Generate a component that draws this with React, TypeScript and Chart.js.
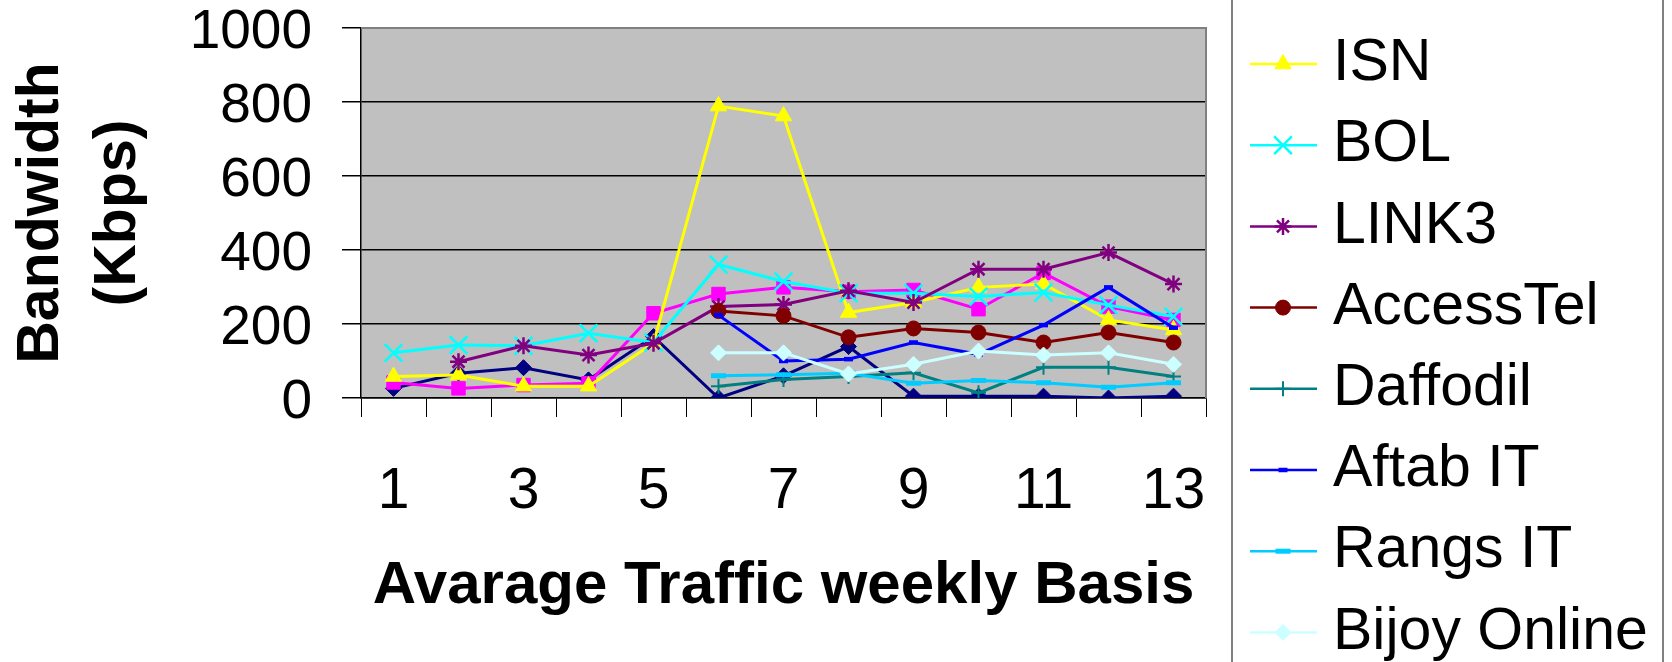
import React, { useEffect, useRef } from 'react';
import { Chart, registerables } from 'chart.js';
import { drawPoint } from 'chart.js/helpers';

Chart.register(...registerables);

const weeks = ['1', '2', '3', '4', '5', '6', '7', '8', '9', '10', '11', '12', '13'];
const seriesNames = ['Series1', 'BDCOM', 'ISN', 'BOL', 'LINK3', 'AccessTel', 'Daffodil', 'Aftab IT', 'Rangs IT', 'Bijoy Online'];
const series1 = [26, 67, 82, 49, 166, 0, 60, 139, 5, 5, 5, 0, 5];
const bdcom = [42, 26, 35, 40, 229, 281, 299, 287, 292, 240, 338, 247, 211];
const isn = [58, 62, 32, 32, 148, 789, 762, 231, 258, 299, 308, 211, 184];
const bol = [122, 143, 141, 175, 150, 361, 315, 283, 283, 274, 285, 251, 220];
const link3 = [null, 98, 141, 116, 148, 247, 253, 290, 258, 348, 348, 393, 308];
const accessTel = [null, null, null, null, null, 235, 222, 164, 188, 177, 150, 177, 150];
const daffodil = [null, null, null, null, null, 32, 50, 58, 68, 14, 83, 83, 58];
const aftabIT = [null, null, null, null, null, 224, 100, 105, 150, 118, 197, 299, 190];
const rangsIT = [null, null, null, null, null, 60, 63, 67, 40, 47, 41, 29, 41];
const bijoyOnline = [null, null, null, null, null, 122, 122, 65, 91, 127, 116, 122, 91];

const yTitle = ['Bandwidth', '(Kbps)'];
const xTitle = 'Avarage Traffic weekly Basis';

const seriesData = [series1, bdcom, isn, bol, link3, accessTel, daffodil, aftabIT, rangsIT, bijoyOnline];
const colors = ['#000080', '#FF00FF', '#FFFF00', '#00FFFF', '#800080', '#800000', '#008080', '#0000FF', '#00CCFF', '#CCFFFF'];
const pointStyles = ['rectRot', 'rect', 'triangle', 'crossRot', 'star', 'circle', 'cross', 'line', 'line', 'rectRot'];
const pointRadii = [8, 9.5, 9.5, 12.5, 8.5, 7.5, 7.5, 4.5, 7.5, 8];
const pointBorders = [1, 1, 1, 2.5, 2.5, 1, 2, 4.5, 5, 1];

const FONT = '"Liberation Sans", Arial, sans-serif';

const plotBg = {
  id: 'plotBg',
  beforeDraw(chart: any) {
    const { ctx, chartArea: a } = chart;
    ctx.save();
    ctx.fillStyle = '#C0C0C0';
    ctx.fillRect(a.left, a.top, a.right - a.left, a.bottom - a.top);
    ctx.restore();
  },
  beforeDatasetsDraw(chart: any) {
    const { ctx, chartArea: a } = chart;
    ctx.save();
    ctx.strokeStyle = '#808080';
    ctx.lineWidth = 2;
    ctx.beginPath();
    ctx.moveTo(a.left, a.top);
    ctx.lineTo(a.right, a.top);
    ctx.lineTo(a.right, a.bottom);
    ctx.stroke();
    ctx.restore();
  },
};

const customLegend = {
  id: 'customLegend',
  afterDraw(chart: any) {
    const { ctx } = chart;
    ctx.save();
    ctx.strokeStyle = '#808080';
    ctx.lineWidth = 2;
    ctx.beginPath();
    ctx.moveTo(1232, -10);
    ctx.lineTo(1232, 680);
    ctx.moveTo(1663, -10);
    ctx.lineTo(1663, 680);
    ctx.stroke();
    const step = 81.2;
    seriesNames.forEach((name, i) => {
      const y = 64 + (i - 2) * step;
      ctx.strokeStyle = colors[i];
      ctx.lineWidth = 2.5;
      ctx.beginPath();
      ctx.moveTo(1250, y);
      ctx.lineTo(1317, y);
      ctx.stroke();
      ctx.fillStyle = colors[i];
      ctx.strokeStyle = colors[i];
      ctx.lineWidth = pointBorders[i];
      drawPoint(ctx, { pointStyle: pointStyles[i], radius: pointRadii[i], borderWidth: pointBorders[i], rotation: 0 } as any, 1283, y);
      ctx.fillStyle = '#000';
      ctx.font = `59px ${FONT}`;
      ctx.textBaseline = 'middle';
      ctx.textAlign = 'left';
      ctx.fillText(name, 1333, y);
    });
    ctx.restore();
  },
};

export default function App() {
  const ref = useRef<HTMLCanvasElement>(null);
  useEffect(() => {
    if (!ref.current) return;
    const chart = new Chart(ref.current, {
      type: 'line',
      data: {
        labels: weeks,
        datasets: seriesData.map((d, i) => ({
          label: seriesNames[i],
          data: d,
          borderColor: colors[i],
          backgroundColor: colors[i],
          borderWidth: 3,
          pointStyle: pointStyles[i] as any,
          pointRadius: pointRadii[i],
          pointBorderWidth: pointBorders[i],
          pointBorderColor: colors[i],
          pointBackgroundColor: colors[i],
          fill: false,
          tension: 0,
          spanGaps: false,
          order: seriesData.length - i,
        })),
      },
      options: {
        responsive: false,
        animation: false,
        devicePixelRatio: 1,
        layout: { padding: { left: 0, top: 28, right: 466, bottom: 0 } },
        plugins: { legend: { display: false }, tooltip: { enabled: false } },
        scales: {
          x: {
            type: 'category',
            offset: true,
            afterFit(scale: any) {
              scale.height = 264;
              scale.paddingLeft = 0;
              scale.paddingRight = 0;
            },
            grid: { offset: true, drawOnChartArea: false, drawTicks: true, tickLength: 19, color: '#000', tickColor: '#000', lineWidth: 1 },
            border: { color: '#000', width: 1.5 },
            ticks: {
              autoSkip: false,
              maxRotation: 0,
              minRotation: 0,
              padding: 41,
              color: '#000',
              font: { family: FONT, size: 57 },
              callback: (_v: any, idx: number) => (idx % 2 === 0 ? weeks[idx] : ''),
            },
            title: { display: true, text: xTitle, color: '#000', font: { family: FONT, size: 60, weight: 'bold' }, padding: { top: 0, bottom: 40 } },
          },
          y: {
            min: 0,
            max: 1000,
            afterFit(scale: any) {
              scale.width = 361;
              scale.paddingTop = 0;
              scale.paddingBottom = 0;
            },
            grid: {
              drawTicks: true,
              tickLength: 19,
              color: (c: any) => (c.tick && c.tick.value === 1000 ? 'rgba(0,0,0,0)' : '#000'),
              tickColor: '#000',
              lineWidth: 1.5,
            },
            border: { color: '#000', width: 1.5 },
            ticks: {
              autoSkip: false,
              stepSize: 200,
              padding: 30,
              labelOffset: 5,
              color: '#000',
              font: { family: FONT, size: 55 },
              callback: (v: any) => String(v),
            },
            title: { display: true, text: yTitle, color: '#000', font: { family: FONT, size: 59, weight: 'bold', lineHeight: 1.3 }, padding: { top: 3.5, bottom: 0 } },
          },
        },
      },
      plugins: [plotBg, customLegend],
    });
    return () => chart.destroy();
  }, []);
  return (
    <div style={{ position: 'fixed', left: 0, top: 0, width: 1672, height: 662, background: '#fff' }}>
      <canvas ref={ref} width={1672} height={662} style={{ display: 'block' }} />
    </div>
  );
}
